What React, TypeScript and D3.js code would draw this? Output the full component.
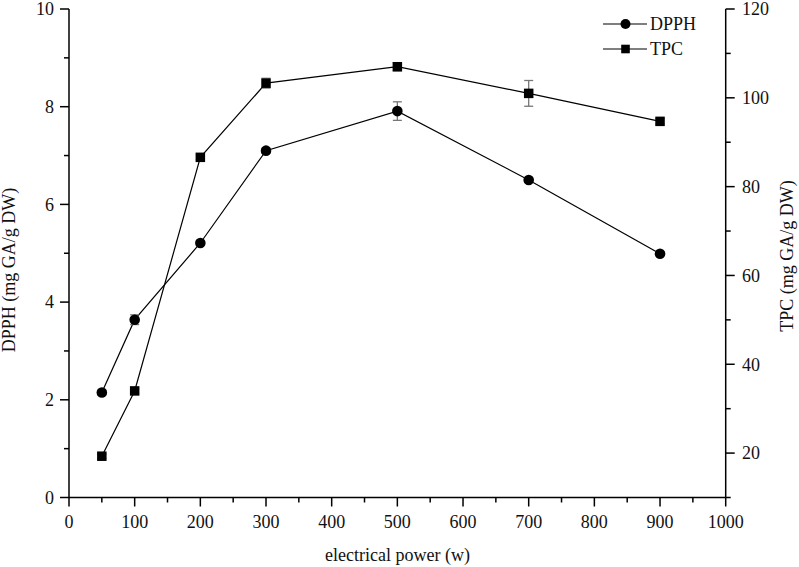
import React from "react";
import * as d3 from "d3";

const powers = [50, 100, 200, 300, 500, 700, 900];
const dpph = [2.15, 3.64, 5.21, 7.1, 7.91, 6.5, 4.99];
const dpphErr = [0.05, 0.1, 0.05, 0.05, 0.19, 0.05, 0.04];
const tpc = [19.3, 34.0, 86.6, 103.3, 107.0, 101.0, 94.7];
const tpcErr = [0.5, 0.5, 0.5, 1.1, 0.9, 2.9, 0.6];

const xMajor = [0, 100, 200, 300, 400, 500, 600, 700, 800, 900, 1000];
const xMinor = [50, 150, 250, 350, 450, 550, 650, 750, 850, 950];
const yLMajor = [0, 2, 4, 6, 8, 10];
const yLMinor = [1, 3, 5, 7, 9];
const yRMajor = [20, 40, 60, 80, 100, 120];
const yRMinor = [10, 30, 50, 70, 90, 110];

const W = 799;
const H = 567;
const L = 69;
const R = 725.7;
const T = 9;
const B = 497.5;
const FONT = "'Liberation Serif', 'Times New Roman', serif";

export default function App() {
  const x = d3.scaleLinear().domain([0, 1000]).range([L, R]);
  const yL = d3.scaleLinear().domain([0, 10]).range([B, T]);
  const yR = d3.scaleLinear().domain([10, 120]).range([B, T]);

  const lineL = d3
    .line<number>()
    .x((_, i) => x(powers[i]))
    .y((d) => yL(d));
  const lineR = d3
    .line<number>()
    .x((_, i) => x(powers[i]))
    .y((d) => yR(d));

  const major = 9;
  const minor = 5;
  const aw = 1.5;
  const errColor = "#777";
  const cap = 4.5;
  const sq = 9.5;
  const cr = 5.3;

  return (
    <svg
      width={W}
      height={H}
      style={{ position: "absolute", left: 0, top: 0, background: "#fff" }}
      fontFamily={FONT}
    >
      <rect x={0} y={0} width={W} height={H} fill="#fff" />
      {/* axes lines */}
      <line x1={L} x2={R} y1={B} y2={B} stroke="#000" strokeWidth={aw} />
      <line x1={L} x2={L} y1={T} y2={B} stroke="#000" strokeWidth={aw} />
      <line x1={R} x2={R} y1={T} y2={B} stroke="#000" strokeWidth={aw} />

      {/* x ticks */}
      {xMajor.map((v) => (
        <g key={"xm" + v}>
          <line x1={x(v)} x2={x(v)} y1={B} y2={B + major} stroke="#000" strokeWidth={aw} />
          <text x={x(v)} y={528} fontSize={18} textAnchor="middle" fill="#111">
            {v}
          </text>
        </g>
      ))}
      {xMinor.map((v) => (
        <line key={"xn" + v} x1={x(v)} x2={x(v)} y1={B} y2={B + minor} stroke="#000" strokeWidth={aw} />
      ))}

      {/* left ticks */}
      {yLMajor.map((v) => (
        <g key={"lm" + v}>
          <line x1={L - major} x2={L} y1={yL(v)} y2={yL(v)} stroke="#000" strokeWidth={aw} />
          <text x={54} y={yL(v)} dy="0.35em" fontSize={18} textAnchor="end" fill="#111">
            {v}
          </text>
        </g>
      ))}
      {yLMinor.map((v) => (
        <line key={"ln" + v} x1={L - minor} x2={L} y1={yL(v)} y2={yL(v)} stroke="#000" strokeWidth={aw} />
      ))}

      {/* right ticks */}
      {yRMajor.map((v) => (
        <g key={"rm" + v}>
          <line x1={R} x2={R + major} y1={yR(v)} y2={yR(v)} stroke="#000" strokeWidth={aw} />
          <text x={742} y={yR(v)} dy="0.35em" fontSize={18} textAnchor="start" fill="#111">
            {v}
          </text>
        </g>
      ))}
      {yRMinor.map((v) => (
        <line key={"rn" + v} x1={R} x2={R + minor} y1={yR(v)} y2={yR(v)} stroke="#000" strokeWidth={aw} />
      ))}

      {/* axis titles */}
      <text x={397.5} y={561} fontSize={18} textAnchor="middle" fill="#111">
        electrical power (w)
      </text>
      <text
        transform={`translate(15, 270) rotate(-90)`}
        fontSize={18}
        textAnchor="middle"
        fill="#111"
      >
        DPPH (mg GA/g DW)
      </text>
      <text
        transform={`translate(793, 256) rotate(-90)`}
        fontSize={18}
        textAnchor="middle"
        fill="#111"
      >
        TPC (mg GA/g DW)
      </text>

      {/* lines */}
      <path d={lineL(dpph) || ""} fill="none" stroke="#000" strokeWidth={1.2} />
      <path d={lineR(tpc) || ""} fill="none" stroke="#000" strokeWidth={1.2} />

      {/* error bars */}
      {dpph.map((v, i) => (
        <g key={"ed" + i} stroke={errColor} strokeWidth={1.3}>
          <line x1={x(powers[i])} x2={x(powers[i])} y1={yL(v - dpphErr[i])} y2={yL(v + dpphErr[i])} />
          <line x1={x(powers[i]) - cap} x2={x(powers[i]) + cap} y1={yL(v - dpphErr[i])} y2={yL(v - dpphErr[i])} />
          <line x1={x(powers[i]) - cap} x2={x(powers[i]) + cap} y1={yL(v + dpphErr[i])} y2={yL(v + dpphErr[i])} />
        </g>
      ))}
      {tpc.map((v, i) => (
        <g key={"et" + i} stroke={errColor} strokeWidth={1.3}>
          <line x1={x(powers[i])} x2={x(powers[i])} y1={yR(v - tpcErr[i])} y2={yR(v + tpcErr[i])} />
          <line x1={x(powers[i]) - cap} x2={x(powers[i]) + cap} y1={yR(v - tpcErr[i])} y2={yR(v - tpcErr[i])} />
          <line x1={x(powers[i]) - cap} x2={x(powers[i]) + cap} y1={yR(v + tpcErr[i])} y2={yR(v + tpcErr[i])} />
        </g>
      ))}

      {/* markers */}
      {dpph.map((v, i) => (
        <circle key={"cd" + i} cx={x(powers[i])} cy={yL(v)} r={cr} fill="#000" />
      ))}
      {tpc.map((v, i) => (
        <rect
          key={"st" + i}
          x={x(powers[i]) - sq / 2}
          y={yR(v) - sq / 2}
          width={sq}
          height={sq}
          fill="#000"
        />
      ))}

      {/* legend */}
      <g>
        <line x1={603} x2={647} y1={24} y2={24} stroke="#000" strokeWidth={1.2} />
        <circle cx={625.5} cy={24} r={5} fill="#000" />
        <text x={650} y={24} dy="0.35em" fontSize={18} fill="#111">
          DPPH
        </text>
        <line x1={603} x2={647} y1={49} y2={49} stroke="#000" strokeWidth={1.2} />
        <rect x={625.5 - 4.3} y={49 - 4.3} width={8.6} height={8.6} fill="#000" />
        <text x={650} y={49} dy="0.35em" fontSize={18} fill="#111">
          TPC
        </text>
      </g>
    </svg>
  );
}
